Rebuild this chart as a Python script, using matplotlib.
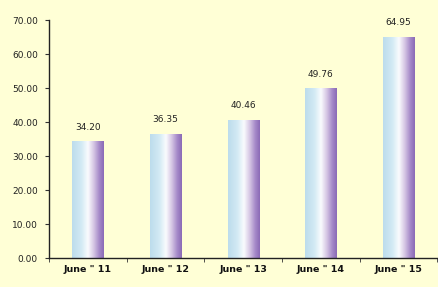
import numpy as np
import matplotlib.pyplot as plt
from matplotlib.colors import LinearSegmentedColormap

categories = ["June \" 11", "June \" 12", "June \" 13", "June \" 14", "June \" 15"]
values = [34.20, 36.35, 40.46, 49.76, 64.95]
yticks = [0, 10, 20, 30, 40, 50, 60, 70]

bg = "#FFFFD6"
fig = plt.figure(figsize=(4.38, 2.87), dpi=100, facecolor=bg)
ax = fig.add_axes([0.112, 0.101, 0.886, 0.829], facecolor=bg)

cmap = LinearSegmentedColormap.from_list(
    "barg", [(0.0, "#BCDCEC"), (0.3, "#D3EAF4"), (0.5, "#FAFCFE"),
             (0.68, "#D6C7E4"), (0.86, "#A488C8"), (1.0, "#8A6AB6")])
grad = np.linspace(0, 1, 256).reshape(1, -1)

x = np.arange(len(categories))
width = 0.40
bars = ax.bar(x, values, width=width, color="none", edgecolor="none")
for b, v in zip(bars, values):
    x0 = b.get_x()
    ax.imshow(grad, cmap=cmap, aspect="auto", extent=(x0, x0 + width, 0, v),
              zorder=2, interpolation="bicubic")
    ax.text(b.get_x() + width / 2, v + 3.0, f"{v:.2f}", ha="center", va="bottom",
            fontsize=6.5, color="#222222")

ax.set_xlim(-0.5, len(categories) - 0.5)
ax.set_ylim(0, 70)
ax.set_yticks(yticks)
ax.set_yticklabels([f"{t:.2f}" for t in yticks], fontsize=6.5, color="#222222")
ax.set_xticks(x)
ax.set_xticklabels(categories, fontsize=6.8, fontweight="bold", color="#111111")
ax.set_xticks(np.arange(len(categories) + 1) - 0.5, minor=True)
ax.tick_params(axis="x", which="major", length=0, pad=5)
ax.tick_params(axis="x", which="minor", length=3, direction="out", color="#333333")
ax.tick_params(axis="y", length=3, direction="out", color="#333333", pad=5)

for s in ["top", "right"]:
    ax.spines[s].set_visible(False)
ax.spines["left"].set_color("#222222")
ax.spines["bottom"].set_color("#222222")
ax.spines["left"].set_linewidth(1.0)
ax.spines["bottom"].set_linewidth(1.0)

fig.savefig("out.png", dpi=100, facecolor=bg)
